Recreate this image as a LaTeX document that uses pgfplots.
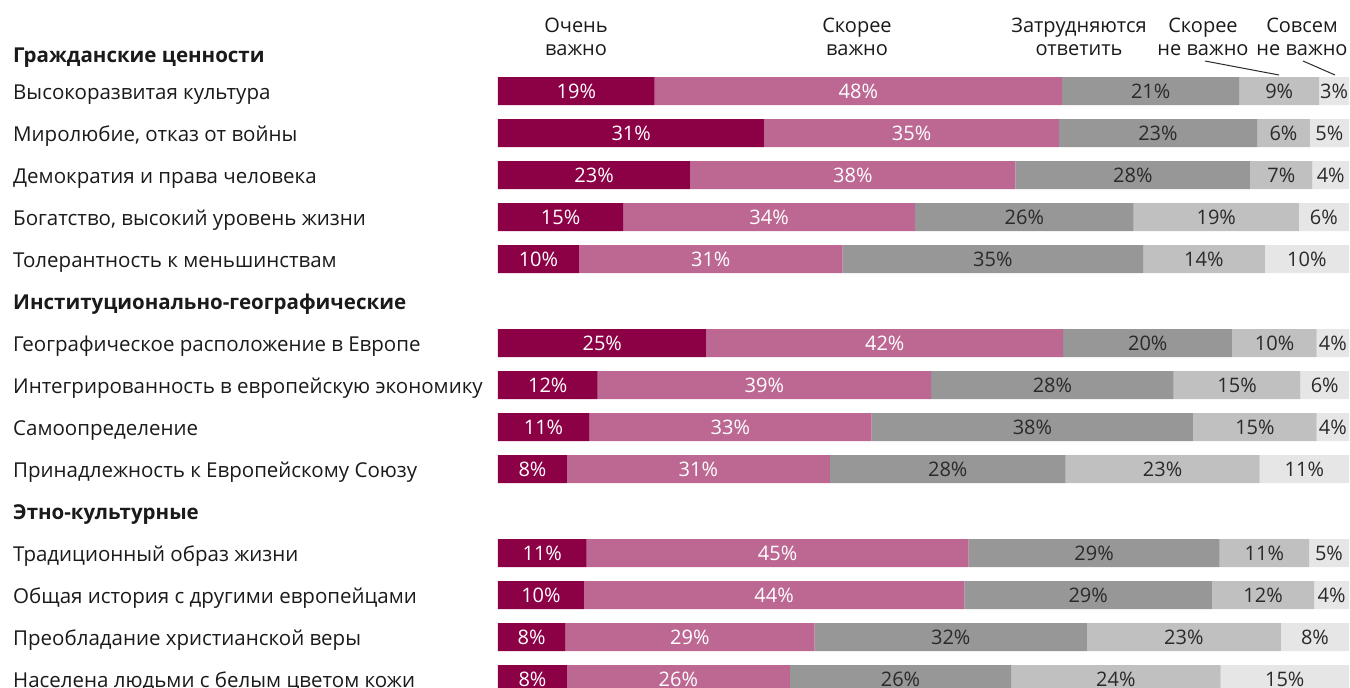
\documentclass[border=0pt]{standalone}
\usepackage{fontspec}
\setmainfont{Open Sans}
\usepackage{pgfplots}
\pgfplotsset{compat=1.18}
\usepackage{pgfplotstable}
\definecolor{c1}{HTML}{8C0046}
\definecolor{c2}{HTML}{BC6892}
\definecolor{c3}{HTML}{979797}
\definecolor{c4}{HTML}{C0C0C0}
\definecolor{c5}{HTML}{E6E6E6}
\definecolor{txt}{HTML}{1A1A1A}
\definecolor{ltxt}{HTML}{2A2A2A}
\pgfplotstableread{
row a b c d e la lb lc ld le
0 18.4 47.9 20.8 9.4 3.5 19 48 21 9 3
1 31.3 34.6 23.3 6.2 4.6 31 35 23 6 5
2 22.6 38.2 27.6 7.3 4.3 23 38 28 7 4
3 14.7 34.3 25.7 19.4 5.9 15 34 26 19 6
4 9.5 31.0 35.3 14.3 9.9 10 31 35 14 10
6 24.5 41.9 19.9 9.9 3.8 25 42 20 10 4
7 11.7 39.2 28.5 14.9 5.7 12 39 28 15 6
8 10.7 33.2 37.8 14.5 3.8 11 33 38 15 4
9 8.1 30.9 27.7 22.8 10.5 8 31 28 23 11
11 10.4 44.9 29.5 10.5 4.7 11 45 29 11 5
12 10.1 44.7 29.1 12.0 4.1 10 44 29 12 4
13 7.9 29.3 32.0 22.8 8.0 8 29 32 23 8
14 8.1 26.2 26.0 24.6 15.1 8 26 26 24 15
}\data
\begin{document}
\begin{tikzpicture}
\useasboundingbox (0pt,0pt) rectangle (1350pt,-688pt);
\clip (0pt,0pt) rectangle (1350pt,-688pt);
\begin{axis}[
  at={(498pt,-28pt)}, anchor=north west,
  x=8.51pt, y=42pt, y dir=reverse,
  xmin=0, xmax=100, ymin=-1.5, ymax=14.5,
  xbar stacked, bar width=28pt,
  axis line style={draw=none}, major tick length=0pt,
  xtick=\empty,
  ytick={-0.87,0,1,2,3,4,5,6,7,8,9,10,11,12,13,14},
  yticklabels={\bfseries Гражданские ценности, Высокоразвитая культура, {Миролюбие, отказ от войны}, Демократия и права человека, {Богатство, высокий уровень жизни}, Толерантность к меньшинствам, \bfseries Институционально-географические, Географическое расположение в Европе, Интегрированность в европейскую экономику, Самоопределение, Принадлежность к Европейскому Союзу, \bfseries Этно-культурные, Традиционный образ жизни, Общая история с другими европейцами, Преобладание христианской веры, Населена людьми с белым цветом кожи},
  yticklabel style={anchor=base west, inner sep=0pt, xshift=-485pt, yshift=-8pt, font=\fontsize{20.5}{24}\selectfont, text=txt},
  clip=false,
  point meta=explicit symbolic,
  nodes near coords={\pgfplotspointmeta\%},
  every node near coord/.append style={font=\fontsize{20}{24}\selectfont, anchor=center, inner sep=0pt},
]
\addplot[fill=c1, draw=none, every node near coord/.append style={text=white}] table[x=a, y=row, meta=la] {\data};
\addplot[fill=c2, draw=none, every node near coord/.append style={text=white}] table[x=b, y=row, meta=lb] {\data};
\addplot[fill=c3, draw=none, every node near coord/.append style={text=ltxt}] table[x=c, y=row, meta=lc] {\data};
\addplot[fill=c4, draw=none, every node near coord/.append style={text=ltxt}] table[x=d, y=row, meta=ld] {\data};
\addplot[fill=c5, draw=none, every node near coord/.append style={text=ltxt}] table[x=e, y=row, meta=le] {\data};
\end{axis}
\begin{scope}[every node/.style={anchor=base, inner sep=0pt, font=\fontsize{20}{24}\selectfont, text=txt}]
\node at (576pt,-32pt) {Очень};
\node at (576pt,-55pt) {важно};
\node at (857pt,-32pt) {Скорее};
\node at (857pt,-55pt) {важно};
\node at (1079pt,-32pt) {Затрудняются};
\node at (1079pt,-55pt) {ответить};
\node at (1203pt,-32pt) {Скорее};
\node at (1203pt,-55pt) {не важно};
\node at (1302pt,-32pt) {Совсем};
\node at (1302pt,-55pt) {не важно};
\end{scope}
\draw[line width=1pt, color=ltxt] (1205pt,-61pt) -- (1279pt,-75pt);
\draw[line width=1pt, color=ltxt] (1303pt,-61pt) -- (1335pt,-75pt);
\end{tikzpicture}
\end{document}
